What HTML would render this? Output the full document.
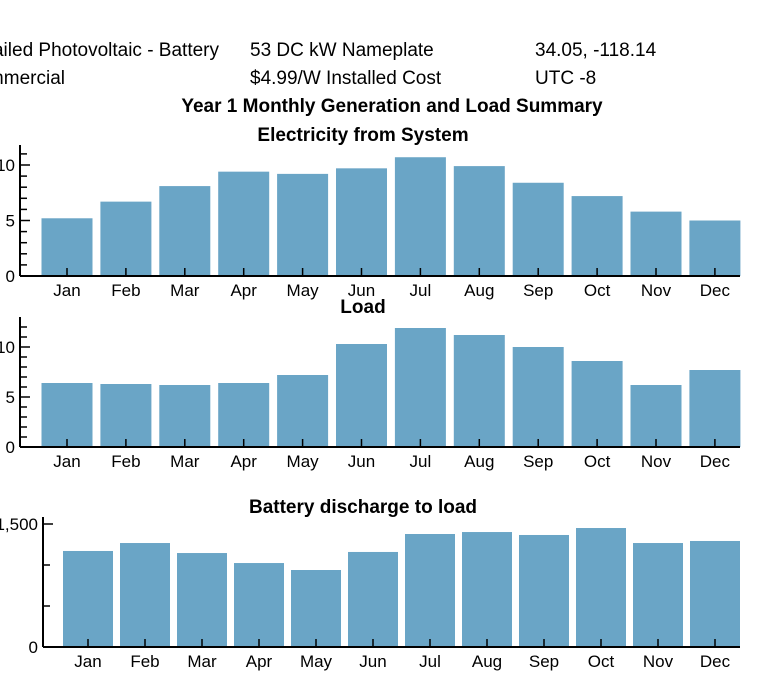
<!DOCTYPE html>
<html><head><meta charset="utf-8"><style>
body{margin:0;background:#fff;font-family:"Liberation Sans",sans-serif}
svg{display:block}
</style></head><body>
<svg id="c" width="768" height="690">
<g font-size="19" fill="#000">
<text x="219" y="56" text-anchor="end">Detailed Photovoltaic - Battery</text>
<text x="65" y="84" text-anchor="end">Commercial</text>
<text x="250" y="56">53 DC kW Nameplate</text>
<text x="250" y="84">$4.99/W Installed Cost</text>
<text x="535" y="56">34.05, -118.14</text>
<text x="535" y="84">UTC -8</text>
<text x="392" y="112" text-anchor="middle" font-weight="bold">Year 1 Monthly Generation and Load Summary</text>
</g>
</svg>
<script>
const months=["Jan","Feb","Mar","Apr","May","Jun","Jul","Aug","Sep","Oct","Nov","Dec"];
const generation=[5.2,6.7,8.1,9.4,9.2,9.7,10.7,9.9,8.4,7.2,5.8,5.0];
const load=[6.4,6.3,6.2,6.4,7.2,10.3,11.9,11.2,10.0,8.6,6.2,7.7];
const battery=[1171,1268,1146,1024,939,1159,1378,1402,1366,1451,1268,1293];
const genTicks=[0,5,10];
const loadTicks=[0,5,10];
const battTicks=[0,1500];
const NS="http://www.w3.org/2000/svg";
const svg=document.getElementById('c');
function mk(t,a,p){const e=document.createElementNS(NS,t);for(const k in a)e.setAttribute(k,a[k]);(p||svg).appendChild(e);return e;}
function chart(o){
  const g=mk('g',{});
  
  
  const y=v=>o.y0-(v/o.max)*(o.y0-o.ymaxPx);
  const t=mk('text',{x:363,y:o.titleY,'text-anchor':'middle','font-size':19,'font-weight':'bold'},g);
  t.textContent=o.title;
  
  
  o.data.forEach((v,i)=>{
    const cx=o.x0+i*o.step;
    const r=mk('rect',{x:cx-o.bw/2,y:y(v),width:o.bw,height:o.y0-y(v),fill:'#6aa5c6'},g);
    
    
    mk('line',{x1:cx,x2:cx,y1:o.y0,y2:o.y0-8,stroke:'#000','stroke-width':1.5},g);
    const l=mk('text',{x:cx,y:o.y0+20,'text-anchor':'middle','font-size':17},g);
    l.textContent=months[i];
    
    
  });
  mk('line',{x1:o.ax,x2:740,y1:o.y0,y2:o.y0,stroke:'#000','stroke-width':2},g);
  mk('line',{x1:o.ax,x2:o.ax,y1:o.y0,y2:o.axTop,stroke:'#000','stroke-width':2},g);
  for(let v=0;v<=o.topV;v+=o.minor){
    const major=o.ticks.includes(v);
    mk('line',{x1:o.ax,x2:o.ax+(major?10:7),y1:y(v),y2:y(v),stroke:'#000','stroke-width':1.5},g);
  }
  o.ticks.forEach(v=>{
    const l=mk('text',{x:o.ax-5,y:y(v)+6,'text-anchor':'end','font-size':17},g);
    l.textContent=v.toLocaleString('en-US');
    
    
  });
}
chart({name:'electricity-chart',title:'Electricity from System',titleY:141,data:generation,ticks:genTicks,x0:67,step:58.9,bw:51,ax:20,y0:276,ymaxPx:165,max:10,axTop:145,topV:11,minor:1});
chart({name:'load-chart',title:'Load',titleY:313,data:load,ticks:loadTicks,x0:67,step:58.9,bw:51,ax:20,y0:447,ymaxPx:347,max:10,axTop:317,topV:12,minor:1});
chart({name:'battery-chart',title:'Battery discharge to load',titleY:513,data:battery,ticks:battTicks,x0:88,step:57,bw:50,ax:43,y0:647,ymaxPx:524,max:1500,axTop:517,topV:1500,minor:500});
</script>
</body></html>
